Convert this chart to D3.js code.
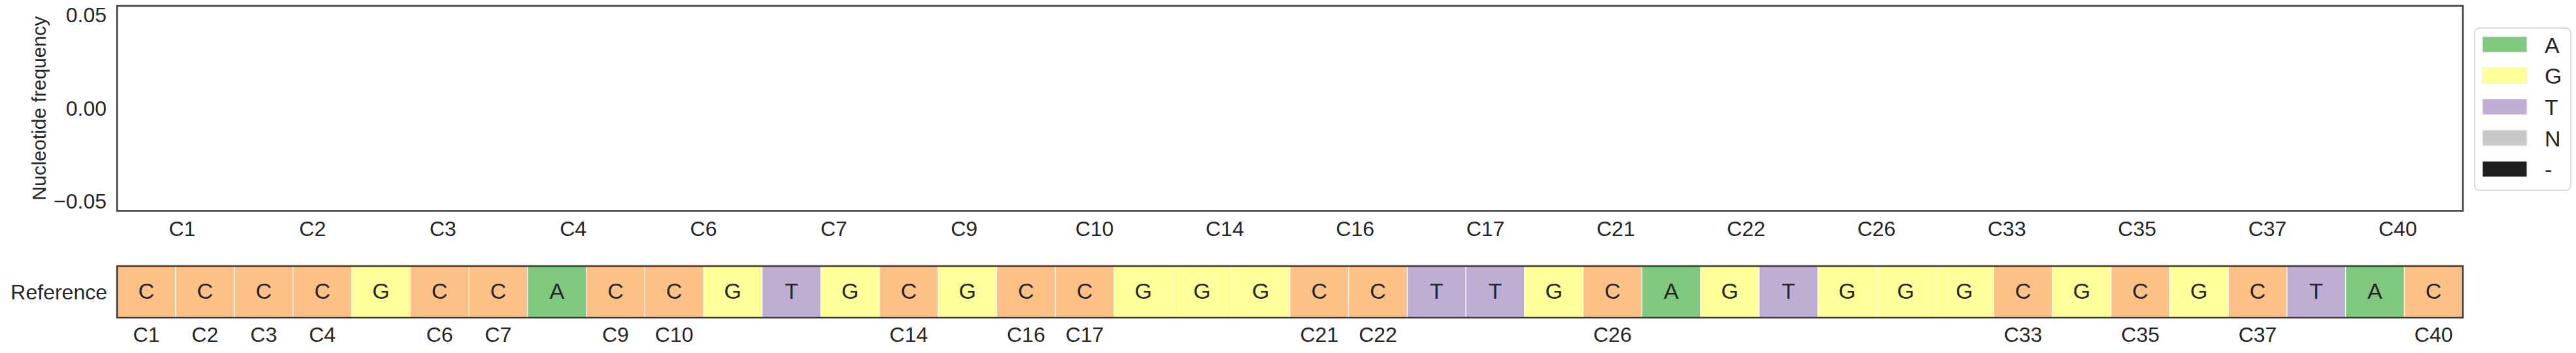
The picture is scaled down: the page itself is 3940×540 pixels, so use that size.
<!DOCTYPE html>
<html>
<head>
<meta charset="utf-8">
<script src="https://cdn.jsdelivr.net/npm/d3@7"></script>
<style>
  html, body { margin: 0; padding: 0; background: #ffffff; }
  svg { display: block; }
  text { font-family: "Liberation Sans", Arial, sans-serif; fill: #262626; }
</style>
</head>
<body>
<svg id="chart" width="3940" height="540"></svg>
<script>
// ---- data ----
const topCategories = ["C1","C2","C3","C4","C6","C7","C9","C10","C14","C16","C17","C21","C22","C26","C33","C35","C37","C40"];
const nucleotides = ["A","G","T","N","-"];
const freqA = [0,0,0,0,0,0,0,0,0,0,0,0,0,0,0,0,0,0];
const freqG = [0,0,0,0,0,0,0,0,0,0,0,0,0,0,0,0,0,0];
const freqT = [0,0,0,0,0,0,0,0,0,0,0,0,0,0,0,0,0,0];
const freqN = [0,0,0,0,0,0,0,0,0,0,0,0,0,0,0,0,0,0];
const freqGap = [0,0,0,0,0,0,0,0,0,0,0,0,0,0,0,0,0,0];
const yTicks = [-0.05, 0.00, 0.05];
const referenceBases = ["C","C","C","C","G","C","C","A","C","C","G","T","G","C","G","C","C","G","G","G",
                        "C","C","T","T","G","C","A","G","T","G","G","G","C","G","C","G","C","T","A","C"];
const referenceLabels = ["C1","C2","C3","C4","","C6","C7","","C9","C10","","","","C14","","C16","C17","","","",
                         "C21","C22","","","","C26","","","","","","","C33","","C35","","C37","","","C40"];

const colors = { A: "#7fc97f", G: "#ffff99", T: "#beaed4", N: "#c8c8c8", "-": "#1f1f1f", C: "#fdc086" };

// ---- layout ----
const svg = d3.select("#chart");
const L = 179, R = 3767;
const topT = 9, topB = 322.5;
const stripT = 407, stripB = 486;
const frameColor = "#3a3a3a";

const x = d3.scaleBand().domain(topCategories).range([L, R]);
const y = d3.scaleLinear().domain([-0.055, 0.055]).range([topB, topT]);

// stacked (empty) frequency bars
const freqSeries = { "A": freqA, "G": freqG, "T": freqT, "N": freqN, "-": freqGap };
const rows = topCategories.map((c, i) => {
  const r = { cat: c };
  nucleotides.forEach(n => r[n] = freqSeries[n][i]);
  return r;
});
const stack = d3.stack().keys(nucleotides)(rows);
svg.append("g").selectAll("g").data(stack).join("g")
  .attr("fill", d => colors[d.key])
  .selectAll("rect").data(d => d).join("rect")
  .attr("x", d => x(d.data.cat) + x.bandwidth() * 0.1)
  .attr("width", x.bandwidth() * 0.8)
  .attr("y", d => y(d[1]))
  .attr("height", d => Math.max(0, y(d[0]) - y(d[1])));

// top y axis
const yAxis = d3.axisLeft(y).tickValues(yTicks).tickFormat(d3.format(".2f")).tickSize(0).tickPadding(16);
const gy = svg.append("g").attr("transform", `translate(${L},0)`).call(yAxis);
gy.select(".domain").remove();
gy.selectAll("text").attr("font-size", 32).attr("fill", "#262626")
  .attr("font-family", '"Liberation Sans", Arial, sans-serif');

// top x axis
const xAxis = d3.axisBottom(x).tickSize(0).tickPadding(0);
const gx = svg.append("g").attr("transform", `translate(0,${topB})`).call(xAxis);
gx.select(".domain").remove();
gx.selectAll("text").attr("font-size", 32).attr("fill", "#262626").attr("dy", null).attr("y", 38.5)
  .attr("font-family", '"Liberation Sans", Arial, sans-serif');

// top frame
svg.append("rect").attr("x", L).attr("y", topT).attr("width", R - L).attr("height", topB - topT)
  .attr("fill", "none").attr("stroke", frameColor).attr("stroke-width", 2.5);

// y label
svg.append("text").attr("transform", `translate(70,${(topT + topB) / 2}) rotate(-90)`)
  .attr("text-anchor", "middle").attr("font-size", 30).text("Nucleotide frequency");

// ---- reference strip ----
const positions = referenceBases.map((b, i) => i + 1);
const xs = d3.scaleBand().domain(positions).range([L, R]);
const strip = svg.append("g");
strip.selectAll("rect").data(referenceBases).join("rect")
  .attr("x", (d, i) => xs(positions[i]))
  .attr("y", stripT)
  .attr("width", xs.bandwidth())
  .attr("height", stripB - stripT)
  .attr("fill", d => colors[d]);
// white separators
strip.selectAll("line").data(positions.slice(1)).join("line")
  .attr("x1", d => xs(d)).attr("x2", d => xs(d))
  .attr("y1", stripT).attr("y2", stripB)
  .attr("stroke", "#ffffff").attr("stroke-width", 1.2);
strip.selectAll("text.base").data(referenceBases).join("text").attr("class", "base")
  .attr("x", (d, i) => xs(positions[i]) + xs.bandwidth() / 2)
  .attr("y", (stripT + stripB) / 2 + 10.5)
  .attr("text-anchor", "middle").attr("font-size", 34).text(d => d);
svg.append("rect").attr("x", L).attr("y", stripT).attr("width", R - L).attr("height", stripB - stripT)
  .attr("fill", "none").attr("stroke", frameColor).attr("stroke-width", 2.5);

// strip bottom labels
const xsAxis = d3.axisBottom(xs).tickSize(0).tickFormat((d, i) => referenceLabels[i]);
const gxs = svg.append("g").attr("transform", `translate(0,${stripB})`).call(xsAxis);
gxs.select(".domain").remove();
gxs.selectAll("text").attr("font-size", 32).attr("fill", "#262626").attr("dy", null).attr("y", 37)
  .attr("font-family", '"Liberation Sans", Arial, sans-serif');

// Reference label
svg.append("text").attr("x", 164).attr("y", (stripT + stripB) / 2 + 11)
  .attr("text-anchor", "end").attr("font-size", 32).text("Reference");

// ---- legend ----
const leg = svg.append("g");
leg.append("rect").attr("x", 3785).attr("y", 43).attr("width", 147).attr("height", 248)
  .attr("rx", 7).attr("fill", "#ffffff").attr("stroke", "#d9d9d9").attr("stroke-width", 1.8);
const ly = d3.scalePoint().domain(nucleotides).range([56, 246.7]);
leg.selectAll("rect.patch").data(nucleotides).join("rect").attr("class", "patch")
  .attr("x", 3797).attr("y", d => ly(d)).attr("width", 68).attr("height", 24)
  .attr("fill", d => colors[d]).attr("stroke", "#eeeeee").attr("stroke-width", 1);
leg.selectAll("text").data(nucleotides).join("text")
  .attr("x", 3892).attr("y", d => ly(d) + 24.5)
  .attr("font-size", 34).text(d => d);
</script>
</body>
</html>
